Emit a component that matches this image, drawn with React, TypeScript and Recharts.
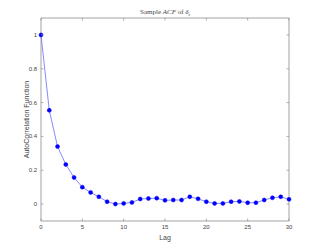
import { LineChart, Line, XAxis, YAxis, Label, ReferenceArea, ReferenceLine } from "recharts";

const LAGS = [
  0, 1, 2, 3, 4, 5, 6, 7, 8, 9, 10, 11, 12, 13, 14, 15, 16, 17, 18, 19, 20, 21, 22, 23, 24, 25, 26, 27, 28, 29, 30,
];
const ACF = [
  1.0, 0.554, 0.34, 0.234, 0.157, 0.1, 0.069, 0.043, 0.014, 0.0, 0.004, 0.01, 0.03, 0.033, 0.035, 0.022, 0.024,
  0.024, 0.043, 0.031, 0.014, 0.004, 0.004, 0.014, 0.016, 0.008, 0.008, 0.024, 0.037, 0.043, 0.028,
];
const X_TICKS = [0, 5, 10, 15, 20, 25, 30];
const Y_TICKS = [0, 0.2, 0.4, 0.6, 0.8, 1];
const X_DOMAIN: [number, number] = [0, 30];
const Y_DOMAIN: [number, number] = [-0.1, 1.1];

const data = LAGS.map((lag, i) => ({ lag, acf: ACF[i] }));

const FRAME = "#8c8c8c";
const TICK_LEN = 2.5;
// tick length expressed in data units (plot is ~247px x ~204px)
const X_TICK_DATA = (TICK_LEN / 247) * 30;
const Y_TICK_DATA = (TICK_LEN / 204) * 1.2;
const labelFont = "'Liberation Sans', Arial, sans-serif";

function BottomTick(props: any) {
  const { x, y, payload } = props;
  return (
    <g>
      <line x1={x} x2={x} y1={y - 3} y2={y - 3 - TICK_LEN} stroke={FRAME} strokeWidth={0.7} />
      <text x={x} y={y + 5} textAnchor="middle" fontSize={6} fill="#444" fontFamily={labelFont}>
        {payload.value}
      </text>
    </g>
  );
}

function LeftTick(props: any) {
  const { x, y, payload } = props;
  return (
    <g>
      <line x1={x + 4} x2={x + 4 + TICK_LEN} y1={y} y2={y} stroke={FRAME} strokeWidth={0.7} />
      <text x={x} y={y + 2} textAnchor="end" fontSize={6} fill="#444" fontFamily={labelFont}>
        {payload.value}
      </text>
    </g>
  );
}

export default function App() {
  return (
    <div style={{ position: "fixed", left: 0, top: 0, width: 319, height: 249, background: "#fff" }}>
      <div
        style={{
          position: "absolute",
          left: 0,
          width: 330,
          top: 8,
          textAlign: "center",
          fontFamily: "'Liberation Serif', 'Times New Roman', serif",
          fontSize: 7,
          color: "#444",
        }}
      >
        Sample <i>ACF</i> of <i>δ</i>
        <sub style={{ fontSize: 5 }}>
          <i>t</i>
        </sub>
      </div>
      <LineChart width={319} height={249} data={data} margin={{ top: 18, right: 30, left: 0, bottom: 0 }}>
        <XAxis
          dataKey="lag"
          type="number"
          domain={X_DOMAIN}
          ticks={X_TICKS}
          height={28}
          tickSize={0}
          tickMargin={3}
          tick={<BottomTick />}
          axisLine={false}
        >
          <Label value="Lag" position="insideBottom" offset={9} fontSize={7} fill="#444" fontFamily={labelFont} />
        </XAxis>
        <YAxis
          type="number"
          domain={Y_DOMAIN}
          ticks={Y_TICKS}
          width={41}
          tickSize={0}
          tickMargin={4}
          tick={<LeftTick />}
          axisLine={false}
        >
          <Label
            content={(p: any) => {
              const vb = p.viewBox;
              const cx = 26;
              const cy = vb.y + vb.height / 2;
              return (
                <text
                  x={cx}
                  y={cy}
                  transform={`rotate(-90 ${cx} ${cy})`}
                  textAnchor="middle"
                  dominantBaseline="central"
                  fontSize={7}
                  fill="#444"
                  fontFamily={labelFont}
                >
                  AutoCorrelation Function
                </text>
              );
            }}
          />
        </YAxis>
        <ReferenceArea
          x1={X_DOMAIN[0]}
          x2={X_DOMAIN[1]}
          y1={Y_DOMAIN[0]}
          y2={Y_DOMAIN[1]}
          fill="none"
          stroke={FRAME}
          strokeWidth={0.8}
          ifOverflow="visible"
        />
        {X_TICKS.map((t) => (
          <ReferenceLine
            key={"xt" + t}
            segment={[
              { x: t, y: Y_DOMAIN[1] },
              { x: t, y: Y_DOMAIN[1] - Y_TICK_DATA },
            ]}
            stroke={FRAME}
            strokeWidth={0.7}
            ifOverflow="visible"
          />
        ))}
        {Y_TICKS.map((t) => (
          <ReferenceLine
            key={"yt" + t}
            segment={[
              { x: X_DOMAIN[1], y: t },
              { x: X_DOMAIN[1] - X_TICK_DATA, y: t },
            ]}
            stroke={FRAME}
            strokeWidth={0.7}
            ifOverflow="visible"
          />
        ))}
        <Line
          dataKey="acf"
          type="linear"
          stroke="#6a6aff"
          strokeWidth={0.8}
          dot={{ r: 2, fill: "#0000ff", stroke: "#0000ff", strokeWidth: 0.5 }}
          isAnimationActive={false}
        />
      </LineChart>
    </div>
  );
}
